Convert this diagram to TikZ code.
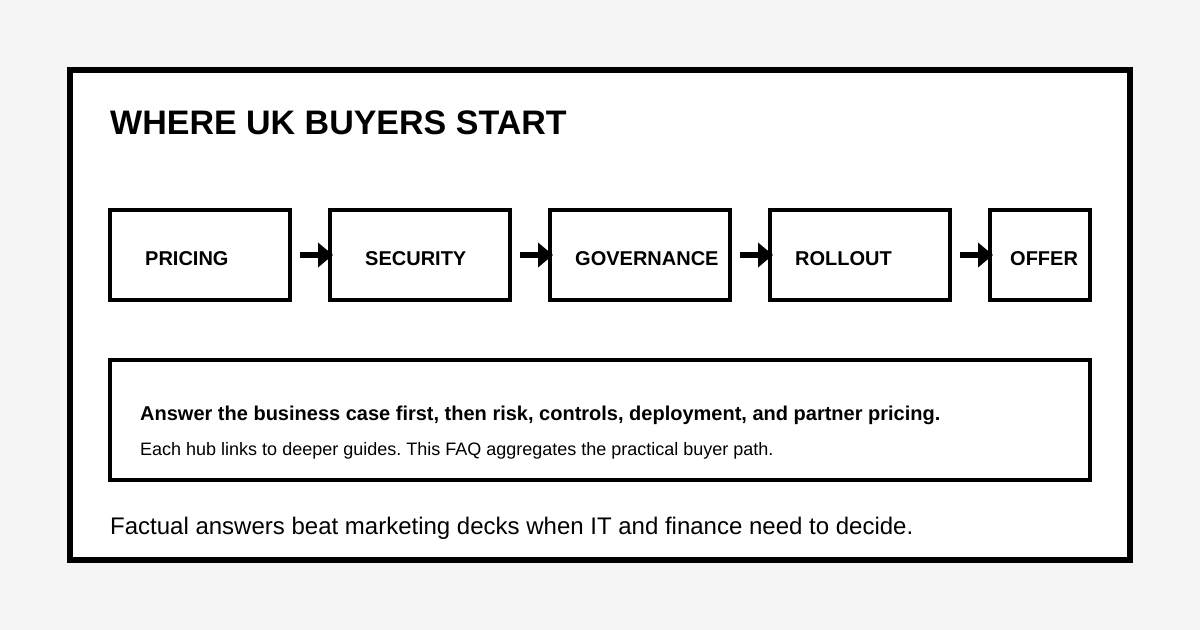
\documentclass[tikz,border=0pt]{standalone}
\usepackage{fontspec}
\setmainfont{Liberation Sans}
\usetikzlibrary{arrows.meta}
\usetikzlibrary{positioning}
\definecolor{pagegrey}{HTML}{F5F5F5}
\frenchspacing
\tikzset{
  stagebox/.style={draw, line width=4bp, minimum width=180bp, minimum height=90bp, inner sep=0pt, outer sep=0pt},
  stagetext/.style={anchor=base west, inner sep=0pt, font=\fontsize{20bp}{24bp}\selectfont\bfseries},
  flow/.style={line width=6bp, -{Triangle[length=15bp,width=24bp]}},
}

\begin{document}
\begin{tikzpicture}[x=1bp, y=-1bp]
  \fill[pagegrey] (0,0) rectangle (1200,630);
  \useasboundingbox (0,0) rectangle (1200,630);
  \draw[line width=6bp, fill=white] (70,70) rectangle (1130,560);

  \node[anchor=base west, inner sep=0pt, font=\fontsize{34bp}{40bp}\selectfont\bfseries] (title) at (110,135) {WHERE UK BUYERS START};

  % the five stages
  \node[stagebox, anchor=north west] (pricing) at (110,210) {};
  \node[stagebox, right=40bp of pricing] (security) {};
  \node[stagebox, right=40bp of security] (governance) {};
  \node[stagebox, right=40bp of governance] (rollout) {};
  \node[stagebox, minimum width=100bp, right=40bp of rollout] (offer) {};

  \node[stagetext] (pricingtext) at ([xshift=35bp, yshift=-10bp]pricing.west) {PRICING};
  \node[stagetext] (securitytext) at ([xshift=35bp, yshift=-10bp]security.west) {SECURITY};
  \node[stagetext] (governancetext) at ([xshift=25bp, yshift=-10bp]governance.west) {GOVERNANCE};
  \node[stagetext] (rollouttext) at ([xshift=25bp, yshift=-10bp]rollout.west) {ROLLOUT};
  \node[stagetext] (offertext) at ([xshift=20bp, yshift=-10bp]offer.west) {OFFER};

  \draw[flow] ([xshift=10bp]pricing.east) -- ([xshift=3bp]security.west);
  \draw[flow] ([xshift=10bp]security.east) -- ([xshift=3bp]governance.west);
  \draw[flow] ([xshift=10bp]governance.east) -- ([xshift=3bp]rollout.west);
  \draw[flow] ([xshift=10bp]rollout.east) -- ([xshift=3bp]offer.west);

  % summary panel
  \node[draw, line width=4bp, minimum width=980bp, minimum height=120bp, inner sep=0pt, outer sep=0pt, anchor=north west] (summary) at (110,360) {};
  \node[anchor=base west, inner sep=0pt, font=\fontsize{20bp}{24bp}\selectfont\bfseries] (summaryhead) at (140,420)
    {Answer the business case first, then risk, controls, deployment, and partner pricing.};
  \node[anchor=base west, inner sep=0pt, font=\fontsize{18bp}{22bp}\selectfont] (summarynote) at (140,455)
    {Each hub links to deeper guides. This FAQ aggregates the practical buyer path.};

  \node[anchor=base west, inner sep=0pt, font=\fontsize{24bp}{28bp}\selectfont] (footer) at (110,534)
    {Factual answers beat marketing decks when IT and finance need to decide.};
\end{tikzpicture}
\end{document}
